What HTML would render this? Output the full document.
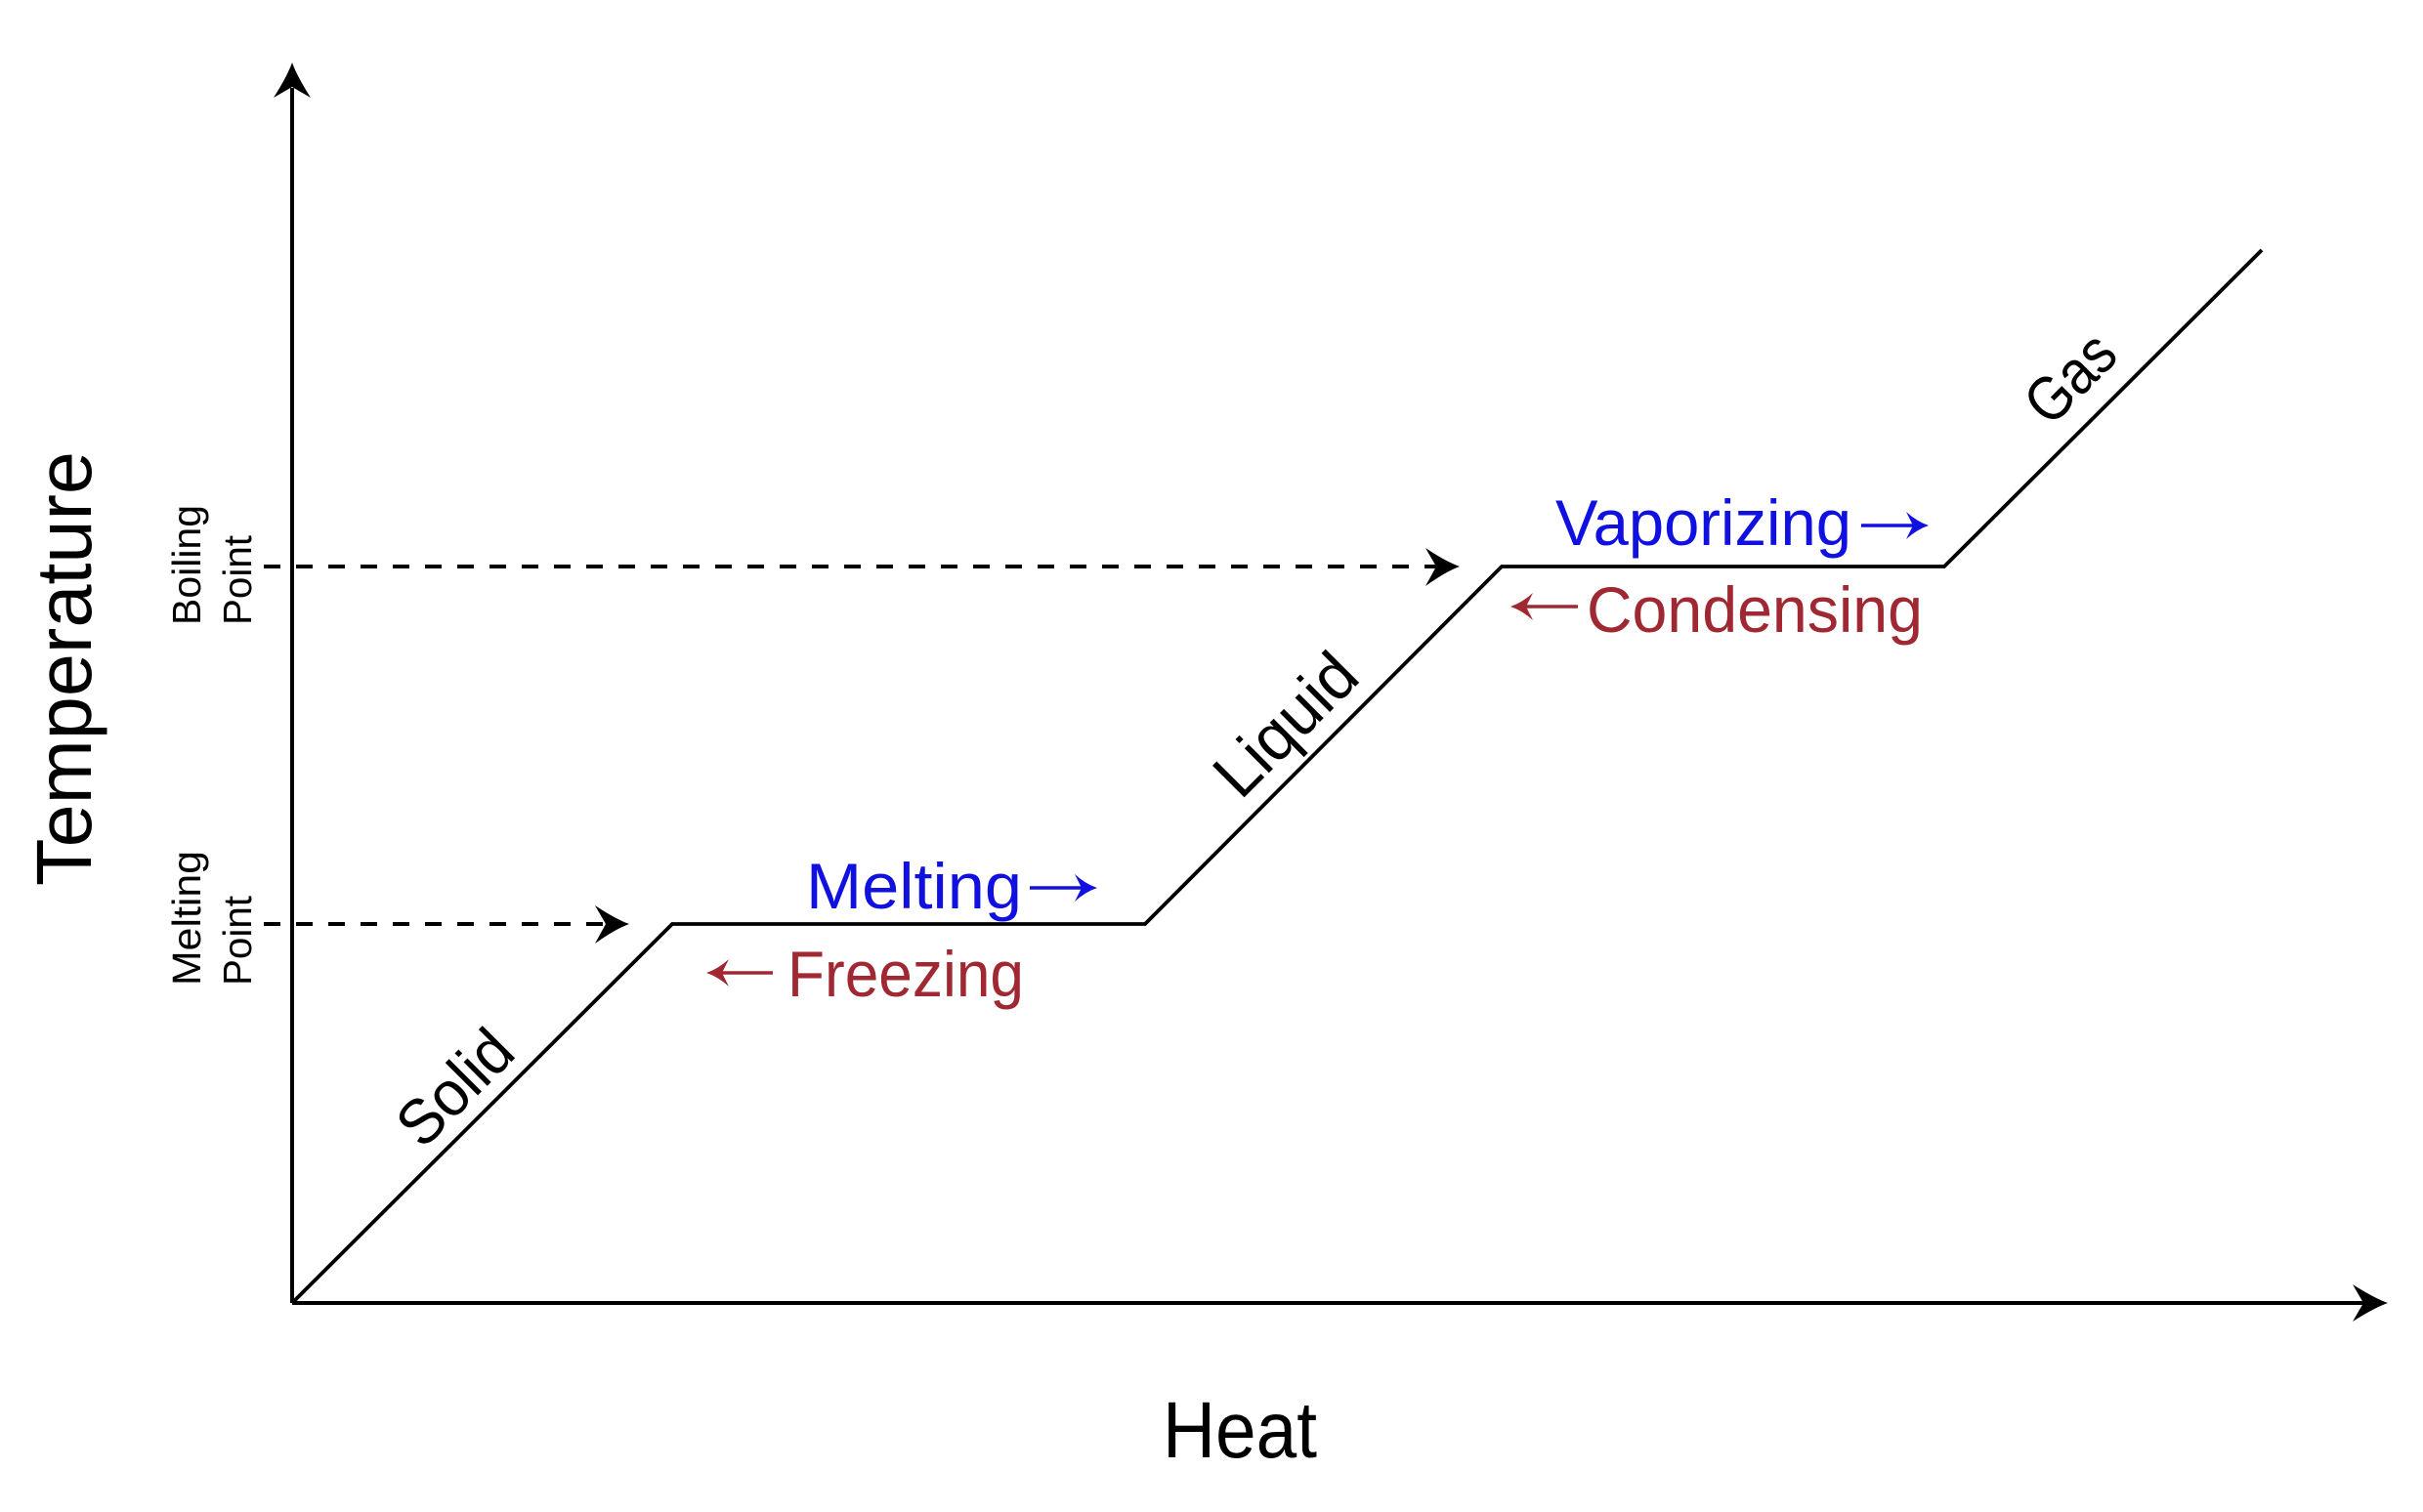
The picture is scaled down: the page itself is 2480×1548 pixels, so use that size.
<!DOCTYPE html>
<html>
<head>
<meta charset="utf-8">
<style>
  html, body { margin: 0; padding: 0; background: #ffffff; }
  body { width: 2480px; height: 1548px; overflow: hidden; }
  svg { display: block; }
  text { font-family: "Liberation Sans", "DejaVu Sans", sans-serif; }
</style>
</head>
<body>
<svg width="2480" height="1548" viewBox="0 0 2480 1548" xmlns="http://www.w3.org/2000/svg">
  <rect x="0" y="0" width="2480" height="1548" fill="#ffffff"/>

  <!-- Axes -->
  <line x1="299" y1="1334" x2="299" y2="90" stroke="#000" stroke-width="4"/>
  <line x1="299" y1="1334" x2="2420" y2="1334" stroke="#000" stroke-width="4"/>
  <path d="M299,64 Q304,78 318,100 L299,89 L280,100 Q294,78 299,64 Z" fill="#000"/>
  <path d="M2444,1334 Q2430,1339 2408,1353 L2419,1334 L2408,1315 Q2430,1329 2444,1334 Z" fill="#000"/>

  <!-- Heating curve -->
  <polyline points="299,1334 688,946 1172,946 1537,580 1990,580 2315,256"
            fill="none" stroke="#000" stroke-width="3.8" stroke-linejoin="miter"/>

  <!-- Dashed guide: boiling point -->
  <line x1="270" y1="580" x2="1470" y2="580" stroke="#000" stroke-width="4" stroke-dasharray="17 16"/>
  <path d="M1494,580 Q1480,585 1459,600 L1470,580 L1459,561 Q1480,575 1494,580 Z" fill="#000"/>

  <!-- Dashed guide: melting point -->
  <line x1="270" y1="946" x2="622" y2="946" stroke="#000" stroke-width="4" stroke-dasharray="17 16"/>
  <path d="M644,946 Q630,951 609,966 L620,946 L609,927 Q630,941 644,946 Z" fill="#000"/>

  <!-- Axis titles -->
  <text transform="translate(93,907) rotate(-90)" font-size="80" fill="#000" textLength="445" lengthAdjust="spacingAndGlyphs">Temperature</text>
  <text x="1190" y="1492" font-size="82" fill="#000" textLength="158" lengthAdjust="spacingAndGlyphs">Heat</text>

  <!-- Boiling / Melting point labels -->
  <text transform="translate(205,640) rotate(-90)" font-size="41" fill="#000" textLength="123" lengthAdjust="spacingAndGlyphs">Boiling</text>
  <text transform="translate(257,640) rotate(-90)" font-size="41" fill="#000" textLength="92" lengthAdjust="spacingAndGlyphs">Point</text>
  <text transform="translate(205,1009) rotate(-90)" font-size="41" fill="#000" textLength="138" lengthAdjust="spacingAndGlyphs">Melting</text>
  <text transform="translate(257,1009) rotate(-90)" font-size="41" fill="#000" textLength="92" lengthAdjust="spacingAndGlyphs">Point</text>

  <!-- Phase labels along slopes -->
  <text transform="translate(465,1113) rotate(-45)" y="23" font-size="65" fill="#000" text-anchor="middle" textLength="138" lengthAdjust="spacingAndGlyphs">Solid</text>
  <text transform="translate(1320,746) rotate(-45)" y="17" font-size="67" fill="#000" text-anchor="middle" textLength="176" lengthAdjust="spacingAndGlyphs">Liquid</text>
  <text transform="translate(2118,386) rotate(-45)" y="23" font-size="64" fill="#000" text-anchor="middle" textLength="102" lengthAdjust="spacingAndGlyphs">Gas</text>

  <!-- Melting -> -->
  <text x="825" y="930" font-size="66" fill="#1010e0" textLength="221" lengthAdjust="spacingAndGlyphs">Melting</text>
  <line x1="1054" y1="909" x2="1112" y2="909" stroke="#1010e0" stroke-width="3.6"/>
  <path d="M1123,909 Q1111,913 1100,923 L1107,909 L1100,895 Q1111,905 1123,909 Z" fill="#1010e0"/>

  <!-- <- Freezing -->
  <line x1="734" y1="996" x2="791" y2="996" stroke="#a02832" stroke-width="3.6"/>
  <path d="M723,996 Q735,1000 746,1010 L739,996 L746,982 Q735,992 723,996 Z" fill="#a02832"/>
  <text x="806" y="1020" font-size="66" fill="#a02832" textLength="242" lengthAdjust="spacingAndGlyphs">Freezing</text>

  <!-- Vaporizing -> -->
  <text x="1592" y="558" font-size="66" fill="#1010e0" textLength="303" lengthAdjust="spacingAndGlyphs">Vaporizing</text>
  <line x1="1905" y1="538" x2="1963" y2="538" stroke="#1010e0" stroke-width="3.6"/>
  <path d="M1974,538 Q1962,542 1951,552 L1958,538 L1951,524 Q1962,534 1974,538 Z" fill="#1010e0"/>

  <!-- <- Condensing -->
  <line x1="1557" y1="621" x2="1615" y2="621" stroke="#a02832" stroke-width="3.6"/>
  <path d="M1546,621 Q1558,625 1569,635 L1562,621 L1569,607 Q1558,617 1546,621 Z" fill="#a02832"/>
  <text x="1624" y="647" font-size="66" fill="#a02832" textLength="344" lengthAdjust="spacingAndGlyphs">Condensing</text>
</svg>
</body>
</html>
